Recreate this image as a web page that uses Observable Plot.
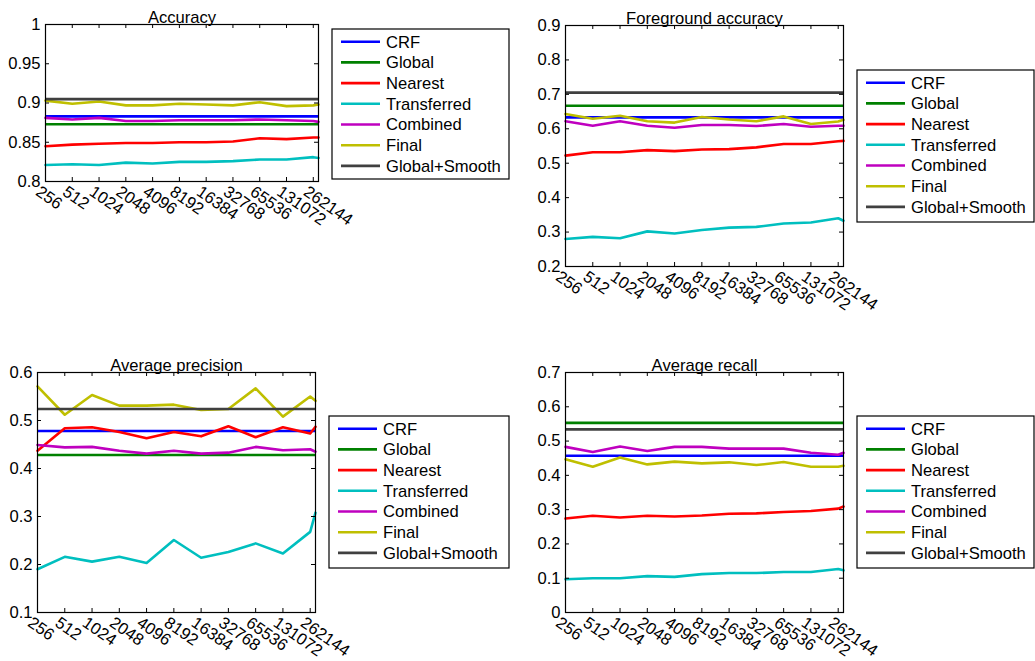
<!DOCTYPE html>
<html>
<head>
<meta charset="utf-8">
<script src="https://cdn.jsdelivr.net/npm/d3@7"></script>
<script src="https://cdn.jsdelivr.net/npm/@observablehq/plot@0.6"></script>
<style>
  body { margin: 0; background: #fff; }
  #fig { position: relative; width: 1035px; height: 661px; background: #fff; overflow: hidden;
         font-family: "Liberation Sans", Arial, Helvetica, sans-serif; }
  #fig > svg, #fig > .panel { position: absolute; }
</style>
</head>
<body>
<div id="fig"></div>
<script>
// Training-set sizes; the last point is the full set, drawn without a tick
const sizes = [256, 512, 1024, 2048, 4096, 8192, 16384, 32768, 65536, 131072, 262144, 300000];
const tickSizes = [256, 512, 1024, 2048, 4096, 8192, 16384, 32768, 65536, 131072, 262144];
const tickLabels = ["256", "512", "1024", "2048", "4096", "8192", "16384", "32768", "65536", "131072", "262144"];

const seriesNames = ["CRF", "Global", "Nearest", "Transferred", "Combined", "Final", "Global+Smooth"];
const seriesColors = ["#0000ff", "#008000", "#ff0000", "#00bfbf", "#bf00bf", "#bfbf00", "#404040"];

// Accuracy
const accuracyCRF = 0.883;
const accuracyGlobal = 0.873;
const accuracyGlobalSmooth = 0.905;
const accuracyNearest = [0.845, 0.847, 0.848, 0.849, 0.849, 0.850, 0.850, 0.851, 0.855, 0.854, 0.856, 0.856];
const accuracyTransferred = [0.821, 0.822, 0.821, 0.824, 0.823, 0.825, 0.825, 0.826, 0.828, 0.828, 0.831, 0.830];
const accuracyCombined = [0.881, 0.879, 0.881, 0.877, 0.877, 0.878, 0.878, 0.878, 0.879, 0.878, 0.877, 0.876];
const accuracyFinal = [0.903, 0.899, 0.902, 0.897, 0.897, 0.899, 0.898, 0.897, 0.901, 0.896, 0.897, 0.898];

// Foreground accuracy
const fgCRF = 0.633;
const fgGlobal = 0.667;
const fgGlobalSmooth = 0.705;
const fgNearest = [0.522, 0.532, 0.532, 0.538, 0.535, 0.540, 0.541, 0.546, 0.556, 0.556, 0.564, 0.565];
const fgTransferred = [0.280, 0.286, 0.282, 0.302, 0.296, 0.306, 0.313, 0.315, 0.325, 0.328, 0.340, 0.333];
const fgCombined = [0.622, 0.609, 0.622, 0.609, 0.603, 0.611, 0.611, 0.608, 0.614, 0.606, 0.609, 0.609];
const fgFinal = [0.643, 0.629, 0.638, 0.622, 0.618, 0.634, 0.627, 0.622, 0.636, 0.614, 0.621, 0.626];

// Average precision
const precCRF = 0.478;
const precGlobal = 0.428;
const precGlobalSmooth = 0.524;
const precNearest = [0.437, 0.484, 0.486, 0.476, 0.463, 0.476, 0.467, 0.488, 0.465, 0.486, 0.473, 0.487];
const precTransferred = [0.190, 0.216, 0.206, 0.216, 0.203, 0.251, 0.214, 0.226, 0.244, 0.223, 0.268, 0.308];
const precCombined = [0.449, 0.444, 0.445, 0.437, 0.431, 0.437, 0.431, 0.433, 0.445, 0.438, 0.440, 0.435];
const precFinal = [0.571, 0.512, 0.553, 0.531, 0.531, 0.533, 0.522, 0.524, 0.567, 0.508, 0.550, 0.541];

// Average recall
const recCRF = 0.457;
const recGlobal = 0.553;
const recGlobalSmooth = 0.534;
const recNearest = [0.274, 0.282, 0.277, 0.282, 0.280, 0.283, 0.288, 0.289, 0.293, 0.296, 0.303, 0.309];
const recTransferred = [0.097, 0.100, 0.100, 0.106, 0.104, 0.112, 0.115, 0.115, 0.118, 0.118, 0.127, 0.123];
const recCombined = [0.483, 0.468, 0.484, 0.471, 0.483, 0.483, 0.478, 0.478, 0.478, 0.466, 0.460, 0.466];
const recFinal = [0.447, 0.425, 0.452, 0.432, 0.440, 0.435, 0.438, 0.430, 0.439, 0.425, 0.425, 0.428];

const yTicksAccuracy = [0.8, 0.85, 0.9, 0.95, 1];
const yTicksFg = [0.2, 0.3, 0.4, 0.5, 0.6, 0.7, 0.8, 0.9];
const yTicksPrec = [0.1, 0.2, 0.3, 0.4, 0.5, 0.6];
const yTicksRec = [0, 0.1, 0.2, 0.3, 0.4, 0.5, 0.6, 0.7];

const FONT = "'Liberation Sans', Arial, Helvetica, sans-serif";
const FS = 16.6;
const fig = document.getElementById("fig");
const color = name => seriesColors[seriesNames.indexOf(name)];

function panel({title, yDomain, yTicks, crf, global, globalSmooth, nearest, transferred, combined, final,
                left, top, width, height, mL, mR, mT, mB}) {
  const rows = (name, values) => values.map((v, i) => ({size: sizes[i], value: v, series: name}));
  const fw = width - mL - mR, fh = height - mT - mB, tick = 4;
  const lineOpts = name => ({x: "size", y: "value", stroke: color(name), strokeWidth: 2.6});
  const chart = Plot.plot({
    width, height, marginLeft: mL, marginRight: mR, marginTop: mT, marginBottom: mB,
    style: {overflow: "visible", background: "transparent", fontFamily: FONT, fontSize: FS + "px", color: "#000"},
    x: {type: "log", base: 2, domain: [sizes[0], sizes[sizes.length - 1]], axis: null},
    y: {domain: yDomain, axis: null},
    marks: [
      Plot.ruleY([crf], {stroke: color("CRF"), strokeWidth: 2.6}),
      Plot.ruleY([global], {stroke: color("Global"), strokeWidth: 2.6}),
      Plot.line(rows("Nearest", nearest), lineOpts("Nearest")),
      Plot.line(rows("Transferred", transferred), lineOpts("Transferred")),
      Plot.line(rows("Combined", combined), lineOpts("Combined")),
      Plot.line(rows("Final", final), lineOpts("Final")),
      Plot.ruleY([globalSmooth], {stroke: color("Global+Smooth"), strokeWidth: 2.6}),
      Plot.frame({stroke: "#000", strokeWidth: 1.2}),
      // inward tick marks on all four sides
      Plot.ruleY(yTicks, {y: d => d, insetRight: fw - tick, stroke: "#000"}),
      Plot.ruleY(yTicks, {y: d => d, insetLeft: fw - tick, stroke: "#000"}),
      Plot.ruleX(tickSizes, {x: d => d, insetTop: fh - tick, stroke: "#000"}),
      Plot.ruleX(tickSizes, {x: d => d, insetBottom: fh - tick, stroke: "#000"}),
      Plot.axisY(yTicks, {tickSize: 0, tickPadding: 5, fontSize: FS, label: null, tickFormat: d => String(d)}),
      Plot.text(tickSizes, {x: d => d, frameAnchor: "bottom", text: (d, i) => tickLabels[i],
        rotate: 35, textAnchor: "start", lineAnchor: "top", dx: -4, dy: 3, fontSize: FS}),
      Plot.text([title], {frameAnchor: "top", lineAnchor: "bottom", dy: -2, fontSize: FS})
    ]
  });
  chart.classList.add("panel");
  chart.style.left = left + "px";
  chart.style.top = top + "px";
  fig.appendChild(chart);
}

function legend(left, top, w, h) {
  const svg = d3.select(fig).append("svg")
    .attr("width", w + 2).attr("height", h + 2)
    .style("left", (left - 1) + "px").style("top", (top - 1) + "px");
  svg.append("rect").attr("x", 1).attr("y", 1).attr("width", w).attr("height", h)
    .attr("fill", "#fff").attr("stroke", "#000").attr("stroke-width", 1.2);
  const row = svg.selectAll("g").data(seriesNames).join("g")
    .attr("transform", (d, i) => `translate(1, ${1 + 12.7 + i * 20.7})`);
  row.append("line").attr("x1", 9).attr("x2", 48).attr("stroke", (d, i) => seriesColors[i]).attr("stroke-width", 2.6);
  row.append("text").attr("x", 54).attr("dy", "0.36em").attr("font-size", FS)
    .attr("font-family", FONT).attr("fill", "#000").text(d => d);
}

panel({title: "Accuracy", yDomain: [0.8, 1], yTicks: yTicksAccuracy,
  crf: accuracyCRF, global: accuracyGlobal, globalSmooth: accuracyGlobalSmooth,
  nearest: accuracyNearest, transferred: accuracyTransferred, combined: accuracyCombined, final: accuracyFinal,
  left: 0, top: 0, width: 330, height: 230, mL: 45, mR: 12, mT: 24, mB: 49});
panel({title: "Foreground accuracy", yDomain: [0.2, 0.9], yTicks: yTicksFg,
  crf: fgCRF, global: fgGlobal, globalSmooth: fgGlobalSmooth,
  nearest: fgNearest, transferred: fgTransferred, combined: fgCombined, final: fgFinal,
  left: 515, top: 0, width: 340, height: 320, mL: 50, mR: 12, mT: 25, mB: 54});
panel({title: "Average precision", yDomain: [0.1, 0.6], yTicks: yTicksPrec,
  crf: precCRF, global: precGlobal, globalSmooth: precGlobalSmooth,
  nearest: precNearest, transferred: precTransferred, combined: precCombined, final: precFinal,
  left: 0, top: 340, width: 330, height: 321, mL: 37, mR: 15, mT: 32, mB: 49});
panel({title: "Average recall", yDomain: [0, 0.7], yTicks: yTicksRec,
  crf: recCRF, global: recGlobal, globalSmooth: recGlobalSmooth,
  nearest: recNearest, transferred: recTransferred, combined: recCombined, final: recFinal,
  left: 515, top: 340, width: 340, height: 321, mL: 50, mR: 12, mT: 32, mB: 49});

legend(332, 29, 177, 150);
legend(857, 70, 177, 152);
legend(329, 416, 180, 152);
legend(857, 416, 177, 152);
</script>
</body>
</html>
